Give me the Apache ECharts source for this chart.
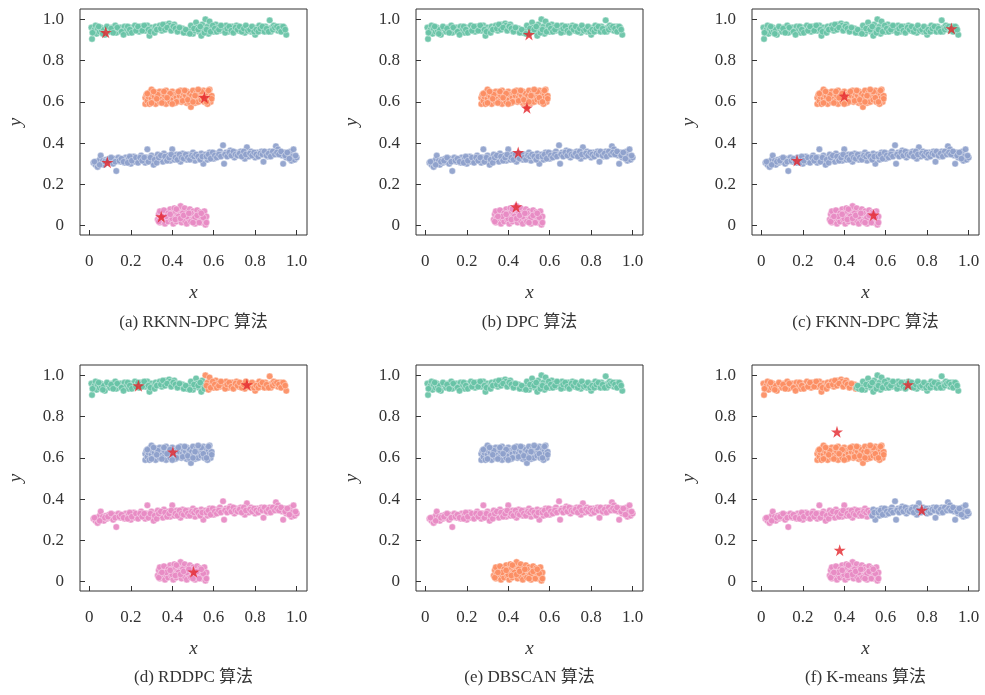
<!DOCTYPE html>
<html>
<head>
<meta charset="utf-8">
<script src="https://cdn.jsdelivr.net/npm/echarts@6/dist/echarts.min.js"></script>
<style>
html,body{margin:0;padding:0;background:#fff;}
#chart{width:985px;height:695px;}
</style>
</head>
<body>
<div id="chart"></div>
<script>
// ---------- DATA ----------
const topBand = [[0.01,0.96],[0.02,0.94],[0.025,0.95],[0.03,0.97],[0.035,0.93],[0.04,0.955],[0.05,0.94],[0.055,0.96],[0.06,0.945],[0.07,0.95],[0.075,0.925],[0.013,0.905],[0.09,0.955],[0.10,0.94],[0.11,0.96],[0.12,0.95],[0.125,0.97],[0.13,0.935],[0.14,0.955],[0.15,0.96],[0.16,0.945],[0.17,0.965],[0.18,0.95],[0.19,0.935],[0.20,0.96],[0.21,0.95],[0.22,0.97],[0.23,0.955],[0.24,0.94],[0.25,0.965],[0.26,0.955],[0.27,0.945],[0.28,0.97],[0.29,0.92],[0.30,0.96],[0.31,0.95],[0.32,0.965],[0.33,0.955],[0.34,0.97],[0.35,0.945],[0.36,0.965],[0.37,0.975],[0.38,0.96],[0.385,0.98],[0.39,0.97],[0.40,0.955],[0.41,0.975],[0.42,0.96],[0.43,0.95],[0.44,0.945],[0.45,0.955],[0.46,0.94],[0.47,0.935],[0.48,0.95],[0.49,0.97],[0.50,0.93],[0.51,0.945],[0.515,0.985],[0.52,0.96],[0.53,0.94],[0.54,0.92],[0.545,0.975],[0.55,0.95],[0.56,1.0],[0.57,0.965],[0.575,0.93],[0.58,0.99],[0.59,0.955],[0.60,0.94],[0.61,0.975],[0.62,0.96],[0.63,0.945],[0.64,0.965],[0.65,0.95],[0.66,0.97],[0.67,0.94],[0.68,0.955],[0.69,0.965],[0.70,0.95],[0.71,0.97],[0.72,0.945],[0.73,0.96],[0.74,0.95],[0.75,0.935],[0.76,0.955],[0.77,0.96],[0.78,0.94],[0.79,0.95],[0.80,0.925],[0.81,0.96],[0.82,0.97],[0.83,0.945],[0.84,0.955],[0.85,0.965],[0.86,0.95],[0.87,0.995],[0.875,0.94],[0.88,0.96],[0.89,0.97],[0.90,0.955],[0.91,0.945],[0.92,0.965],[0.93,0.95],[0.94,0.96],[0.95,0.925],
[0.015,0.935],[0.045,0.965],[0.065,0.93],[0.085,0.965],[0.105,0.955],[0.115,0.935],[0.135,0.96],[0.155,0.94],[0.165,0.925],[0.185,0.965],[0.195,0.95],[0.205,0.935],[0.225,0.945],[0.235,0.965],[0.255,0.945],[0.265,0.97],[0.285,0.95],[0.295,0.94],[0.315,0.935],[0.325,0.95],[0.345,0.955],[0.355,0.975],[0.365,0.95],[0.375,0.96],[0.395,0.945],[0.405,0.965],[0.415,0.955],[0.425,0.94],[0.435,0.96],[0.455,0.935],[0.465,0.95],[0.485,0.93],[0.505,0.955],[0.525,0.95],[0.535,0.965],[0.555,0.935],[0.565,0.95],[0.585,0.94],[0.595,0.97],[0.605,0.955],[0.615,0.94],[0.625,0.95],[0.635,0.97],[0.655,0.935],[0.665,0.955],[0.675,0.965],[0.685,0.945],[0.695,0.935],[0.705,0.96],[0.715,0.95],[0.725,0.965],[0.735,0.94],[0.745,0.955],[0.755,0.97],[0.765,0.945],[0.775,0.95],[0.785,0.965],[0.795,0.94],[0.805,0.95],[0.815,0.94],[0.825,0.955],[0.835,0.965],[0.845,0.94],[0.855,0.955],[0.865,0.94],[0.885,0.95],[0.895,0.96],[0.905,0.965],[0.915,0.955],[0.925,0.94],[0.935,0.965],[0.945,0.95]];

const midBlob = [[0.27,0.59],[0.27,0.62],[0.275,0.635],[0.28,0.605],[0.285,0.625],[0.29,0.645],[0.29,0.59],[0.30,0.615],[0.30,0.66],[0.305,0.635],[0.31,0.60],[0.315,0.625],[0.32,0.645],[0.32,0.59],[0.33,0.61],[0.335,0.63],[0.34,0.65],[0.34,0.60],[0.35,0.62],[0.355,0.64],[0.36,0.605],[0.365,0.63],[0.37,0.655],[0.37,0.59],[0.38,0.615],[0.385,0.64],[0.39,0.60],[0.395,0.625],[0.40,0.65],[0.405,0.61],[0.41,0.635],[0.415,0.595],[0.42,0.62],[0.425,0.645],[0.43,0.605],[0.435,0.63],[0.44,0.655],[0.445,0.60],[0.45,0.62],[0.455,0.64],[0.46,0.61],[0.465,0.63],[0.47,0.65],[0.47,0.595],[0.48,0.62],[0.485,0.64],[0.49,0.575],[0.49,0.605],[0.495,0.63],[0.50,0.655],[0.505,0.615],[0.51,0.595],[0.515,0.64],[0.52,0.62],[0.525,0.60],[0.53,0.645],[0.535,0.625],[0.54,0.61],[0.545,0.635],[0.55,0.655],[0.555,0.60],[0.56,0.625],[0.565,0.645],[0.57,0.61],[0.575,0.635],[0.58,0.66],[0.58,0.62],[0.585,0.60],[0.59,0.63],[0.59,0.615],[0.30,0.595],[0.33,0.635],[0.36,0.65],[0.39,0.64],[0.42,0.60],[0.45,0.605],[0.48,0.60],[0.51,0.63],[0.54,0.65],[0.57,0.59],
[0.28,0.64],[0.31,0.65],[0.325,0.615],[0.35,0.595],[0.375,0.62],[0.40,0.59],[0.43,0.65],[0.46,0.655],[0.475,0.61],[0.50,0.60],[0.525,0.66],[0.55,0.62],[0.565,0.60],[0.575,0.655]];

const lowBand = [[0.02,0.305],[0.03,0.295],[0.035,0.31],[0.04,0.285],[0.045,0.30],[0.05,0.32],[0.055,0.34],[0.06,0.30],[0.065,0.315],[0.07,0.295],[0.08,0.32],[0.085,0.305],[0.095,0.325],[0.10,0.31],[0.11,0.32],[0.115,0.30],[0.12,0.325],[0.13,0.265],[0.135,0.315],[0.14,0.33],[0.15,0.31],[0.16,0.32],[0.17,0.305],[0.175,0.33],[0.18,0.315],[0.19,0.325],[0.20,0.30],[0.21,0.32],[0.215,0.335],[0.22,0.31],[0.23,0.325],[0.24,0.315],[0.25,0.34],[0.26,0.32],[0.27,0.305],[0.275,0.33],[0.28,0.37],[0.29,0.325],[0.30,0.34],[0.305,0.31],[0.31,0.295],[0.32,0.33],[0.33,0.345],[0.34,0.32],[0.35,0.335],[0.355,0.31],[0.36,0.35],[0.37,0.325],[0.38,0.34],[0.39,0.315],[0.40,0.37],[0.405,0.335],[0.41,0.32],[0.42,0.345],[0.43,0.33],[0.44,0.31],[0.45,0.35],[0.46,0.335],[0.47,0.32],[0.48,0.345],[0.49,0.33],[0.50,0.355],[0.51,0.315],[0.52,0.34],[0.53,0.325],[0.54,0.35],[0.55,0.30],[0.555,0.335],[0.56,0.345],[0.57,0.32],[0.58,0.355],[0.59,0.34],[0.60,0.325],[0.61,0.35],[0.62,0.335],[0.63,0.36],[0.64,0.345],[0.645,0.39],[0.65,0.30],[0.66,0.355],[0.67,0.34],[0.68,0.365],[0.69,0.35],[0.70,0.33],[0.71,0.355],[0.72,0.34],[0.73,0.36],[0.74,0.345],[0.75,0.325],[0.76,0.38],[0.765,0.35],[0.77,0.335],[0.78,0.36],[0.79,0.345],[0.80,0.33],[0.81,0.355],[0.82,0.34],[0.83,0.36],[0.84,0.31],[0.85,0.35],[0.86,0.335],[0.87,0.36],[0.88,0.345],[0.89,0.355],[0.90,0.385],[0.91,0.37],[0.92,0.35],[0.93,0.34],[0.935,0.30],[0.94,0.355],[0.95,0.33],[0.96,0.345],[0.97,0.36],[0.975,0.315],[0.98,0.335],[0.99,0.32],[1.0,0.33],[0.985,0.37],
[0.025,0.31],[0.05,0.295],[0.075,0.31],[0.09,0.315],[0.105,0.33],[0.125,0.31],[0.145,0.315],[0.155,0.325],[0.165,0.31],[0.185,0.305],[0.195,0.335],[0.205,0.315],[0.225,0.33],[0.235,0.305],[0.245,0.33],[0.255,0.315],[0.265,0.33],[0.285,0.31],[0.295,0.33],[0.315,0.32],[0.325,0.305],[0.335,0.33],[0.345,0.34],[0.365,0.335],[0.375,0.315],[0.385,0.33],[0.395,0.345],[0.415,0.33],[0.425,0.32],[0.435,0.345],[0.445,0.33],[0.455,0.325],[0.465,0.345],[0.475,0.33],[0.485,0.32],[0.495,0.34],[0.505,0.335],[0.515,0.345],[0.525,0.335],[0.535,0.32],[0.545,0.335],[0.565,0.335],[0.575,0.345],[0.585,0.325],[0.595,0.355],[0.605,0.34],[0.615,0.33],[0.625,0.345],[0.635,0.335],[0.655,0.345],[0.665,0.335],[0.675,0.355],[0.685,0.34],[0.695,0.36],[0.705,0.345],[0.715,0.34],[0.725,0.35],[0.735,0.335],[0.745,0.36],[0.755,0.345],[0.775,0.35],[0.785,0.34],[0.795,0.355],[0.805,0.345],[0.815,0.335],[0.825,0.35],[0.835,0.345],[0.845,0.36],[0.855,0.34],[0.865,0.35],[0.875,0.335],[0.885,0.36],[0.895,0.345],[0.905,0.355],[0.915,0.345],[0.925,0.36],[0.945,0.34],[0.955,0.355],[0.965,0.325],[0.995,0.34]];

const bottomBlob = [[0.33,0.03],[0.335,0.055],[0.34,0.015],[0.345,0.04],[0.35,0.065],[0.355,0.025],[0.36,0.05],[0.365,0.01],[0.37,0.035],[0.375,0.07],[0.38,0.02],[0.385,0.045],[0.39,0.08],[0.395,0.03],[0.40,0.06],[0.405,0.01],[0.41,0.04],[0.41,0.085],[0.415,0.065],[0.42,0.02],[0.425,0.05],[0.43,0.075],[0.435,0.03],[0.44,0.055],[0.44,0.095],[0.445,0.015],[0.45,0.04],[0.455,0.07],[0.46,0.085],[0.46,0.025],[0.465,0.05],[0.47,0.01],[0.475,0.065],[0.48,0.035],[0.485,0.08],[0.49,0.02],[0.495,0.05],[0.50,0.07],[0.505,0.035],[0.51,0.01],[0.515,0.055],[0.52,0.075],[0.525,0.025],[0.53,0.045],[0.535,0.065],[0.54,0.015],[0.545,0.035],[0.55,0.055],[0.555,0.07],[0.56,0.025],[0.56,0.005],[0.565,0.045],[0.34,0.07],[0.36,0.075],[0.38,0.06],[0.40,0.035],[0.42,0.08],[0.45,0.06],[0.47,0.045],[0.49,0.06],[0.51,0.04],[0.53,0.015],[0.55,0.04],[0.37,0.045],[0.43,0.045],[0.50,0.015],
[0.335,0.02],[0.35,0.045],[0.39,0.055],[0.415,0.03],[0.44,0.035],[0.455,0.05],[0.48,0.06],[0.52,0.05],[0.54,0.06],[0.565,0.015]];

// cluster centres (red stars) per panel
const centersA = [[0.079,0.937],[0.555,0.621],[0.087,0.307],[0.347,0.044]];
const centersB = [[0.50,0.927],[0.49,0.571],[0.448,0.355],[0.438,0.092]];
const centersC = [[0.917,0.955],[0.40,0.629],[0.172,0.316],[0.541,0.052]];
const centersD = [[0.237,0.95],[0.76,0.955],[0.403,0.629],[0.503,0.048]];
const centersE = [];
const centersF = [[0.708,0.955],[0.365,0.726],[0.774,0.347],[0.378,0.153]];

const captions = ['(a) RKNN-DPC 算法','(b) DPC 算法','(c) FKNN-DPC 算法','(d) RDDPC 算法','(e) DBSCAN 算法','(f) K-means 算法'];
const tickValues = [0,0.2,0.4,0.6,0.8,1.0];

// ---------- STYLE ----------
const C = {g:'#66c2a5', o:'#fc8d62', b:'#8da0cb', p:'#e78ac3'};
const STAR = 'path://M50,0 L61.2,34.5 L97.6,34.5 L68.2,55.9 L79.4,90.5 L50,69.1 L20.6,90.5 L31.8,55.9 L2.4,34.5 L38.8,34.5 Z';
const FONT = '"Liberation Serif","Times New Roman","Noto Sans CJK SC",serif';

const lt = (arr, t) => arr.filter(p => p[0] < t);
const ge = (arr, t) => arr.filter(p => p[0] >= t);

const panels = [
  {groups:[[topBand,C.g],[midBlob,C.o],[lowBand,C.b],[bottomBlob,C.p]], centers:centersA},
  {groups:[[topBand,C.g],[midBlob,C.o],[lowBand,C.b],[bottomBlob,C.p]], centers:centersB},
  {groups:[[topBand,C.g],[midBlob,C.o],[lowBand,C.b],[bottomBlob,C.p]], centers:centersC},
  {groups:[[lt(topBand,0.558),C.g],[ge(topBand,0.558),C.o],[midBlob,C.b],[lowBand,C.p],[bottomBlob,C.p]], centers:centersD},
  {groups:[[topBand,C.g],[midBlob,C.b],[lowBand,C.p],[bottomBlob,C.o]], centers:centersE},
  {groups:[[lt(topBand,0.458),C.o],[ge(topBand,0.458),C.g],[midBlob,C.o],[lt(lowBand,0.535),C.p],[ge(lowBand,0.535),C.b],[bottomBlob,C.p]], centers:centersF}
];

const lefts = [80, 416, 752];
const tops = [9, 365];
const W = 227, H = 226;

const grid = [], xAxis = [], yAxis = [], series = [], graphic = [];
panels.forEach((pn, i) => {
  const col = i % 3, row = Math.floor(i / 3);
  grid.push({left: lefts[col], top: tops[row], width: W, height: H, show: true, borderColor: '#333', borderWidth: 1, backgroundColor: 'transparent'});
  const fmt = v => (Math.abs(v) < 1e-9 ? '0' : v.toFixed(1));
  xAxis.push({
    type: 'value', gridIndex: i, min: -0.045, max: 1.05,
    axisLine: {show: false, onZero: false},
    splitLine: {show: false},
    axisTick: {show: true, inside: true, length: 5, customValues: tickValues, lineStyle: {color: '#333'}},
    axisLabel: {customValues: tickValues, formatter: fmt, margin: 18, fontFamily: FONT, fontSize: 17, color: '#333'},
    name: 'x', nameLocation: 'middle', nameGap: 48,
    nameTextStyle: {fontFamily: FONT, fontStyle: 'italic', fontSize: 19, color: '#333'}
  });
  yAxis.push({
    type: 'value', gridIndex: i, min: -0.045, max: 1.05,
    axisLine: {show: false, onZero: false},
    splitLine: {show: false},
    axisTick: {show: true, inside: true, length: 5, customValues: tickValues, lineStyle: {color: '#333'}},
    axisLabel: {customValues: tickValues, formatter: fmt, margin: 16, fontFamily: FONT, fontSize: 17, color: '#333'},
    name: 'y', nameLocation: 'middle', nameGap: 54,
    nameTextStyle: {fontFamily: FONT, fontStyle: 'italic', fontSize: 19, color: '#333'}
  });
  pn.groups.forEach(g => {
    series.push({
      type: 'scatter', xAxisIndex: i, yAxisIndex: i, data: g[0],
      symbol: 'circle', symbolSize: 6.5, silent: true,
      itemStyle: {color: g[1], opacity: 0.92, borderColor: '#ffffff', borderWidth: 0.4}
    });
  });
  if (pn.centers.length) {
    series.push({
      type: 'scatter', xAxisIndex: i, yAxisIndex: i, data: pn.centers, z: 5,
      symbol: STAR, symbolSize: 12, silent: true,
      itemStyle: {color: '#e3242b'}
    });
  }
  graphic.push({
    type: 'text', x: lefts[col] + W / 2, y: row === 0 ? 323 : 678,
    style: {text: captions[i], fontFamily: FONT, fontSize: 17, fill: '#333', align: 'center', verticalAlign: 'middle'}
  });
});

const chart = echarts.init(document.getElementById('chart'), null, {renderer: 'canvas'});
chart.setOption({backgroundColor: '#fff', animation: false, grid, xAxis, yAxis, series, graphic});
</script>
</body>
</html>
